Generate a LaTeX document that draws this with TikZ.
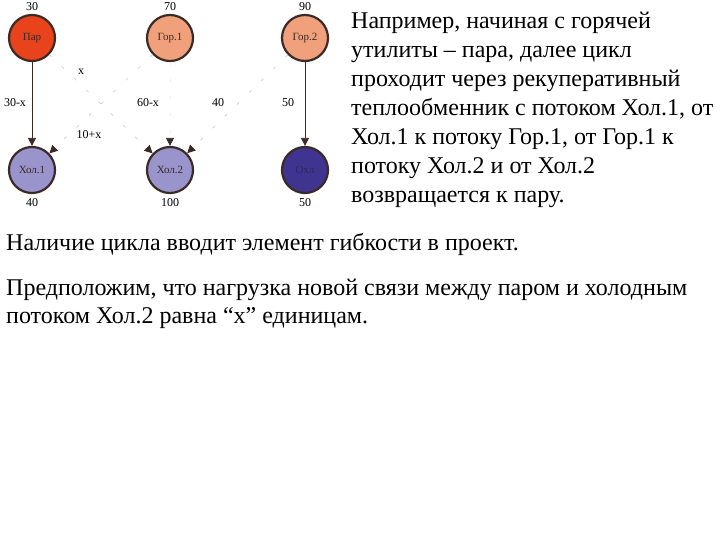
\documentclass[tikz,border=0pt]{standalone}
\usepackage{fontspec}
\setmainfont{Liberation Serif}
\usetikzlibrary{arrows.meta}

\definecolor{parcol}{HTML}{E8431A}
\definecolor{gorcol}{HTML}{F0A07A}
\definecolor{holcol}{HTML}{9A94CC}
\definecolor{ohlcol}{HTML}{3F3590}
\definecolor{rimcol}{HTML}{3B2A25}

\tikzset{
  stream/.style={circle, draw=rimcol, line width=2.2pt, minimum size=46pt,
    inner sep=0pt, font=\fontsize{11}{11}\selectfont, text=rimcol},
  load/.style={font=\fontsize{12}{12}\selectfont, inner sep=1pt},
  link/.style={-{Triangle[length=8pt,width=8pt,color=rimcol]}, rimcol, line width=0.8pt},
  faint/.style={link, draw=gray!35, dash pattern=on 3pt off 14pt},
  para/.style={anchor=base west, inner sep=0pt,
    font=\fontsize{24}{29}\selectfont},
}

\begin{document}
\begin{tikzpicture}[x=1pt, y=-1pt]
  \useasboundingbox (0,0) rectangle (720,540);

  % streams
  \node[stream, fill=parcol] (par)  at (32,38)  {Пар};
  \node[stream, fill=gorcol] (gor1) at (170,38) {Гор.1};
  \node[stream, fill=gorcol] (gor2) at (305,38) {Гор.2};
  \node[stream, fill=holcol] (hol1) at (32,170)  {Хол.1};
  \node[stream, fill=holcol] (hol2) at (170,170) {Хол.2};
  \node[stream, fill=ohlcol, text=ohlcol!70!black] (ohl) at (305,170) {Охл};

  % loads
  \node[load] (lpar)  at (32,7)   {30};
  \node[load] (lgor1) at (170,7)  {70};
  \node[load] (lgor2) at (305,7)  {90};
  \node[load] (lhol1) at (32,203)  {40};
  \node[load] (lhol2) at (170,203) {100};
  \node[load] (lohl)  at (305,203) {50};

  % matches
  \draw[link] (par) -- (hol1);
  \draw[link] (gor2) -- (ohl);
  \draw[faint] (par) -- (hol2);
  \draw[faint] (gor1) -- (hol1);
  \draw[faint, draw=gray!12] (gor1) -- (hol2);
  \draw[faint] (gor2) -- (hol2);

  \node[load] (qx)    at (81,72)   {x};
  \node[load] (q30x)  at (15,103)  {30-x};
  \node[load] (q60x)  at (148,103) {60-x};
  \node[load] (q40)   at (218,103) {40};
  \node[load] (q50)   at (288,103) {50};
  \node[load] (q10x)  at (89,135)  {10+x};

  % text, one node per line
  \foreach \row/\txt in {0/{Например, начиная с горячей},
      1/{утилиты -- пара, далее цикл},
      2/{проходит через рекуперативный},
      3/{теплообменник с потоком Хол.1, от},
      4/{Хол.1 к потоку Гор.1, от Гор.1 к},
      5/{потоку Хол.2 и от Хол.2},
      6/{возвращается к пару.}}
    \node[para] (intro\row) at (351,29+29*\row) {\txt};
  \node[para] (cycle) at (6,250) {Наличие цикла вводит элемент гибкости в проект.};
  \node[para] (guessa) at (6,295) {Предположим, что нагрузка новой связи между паром и холодным};
  \node[para] (guessb) at (6,323) {потоком Хол.2 равна “х” единицам.};
\end{tikzpicture}
\end{document}
